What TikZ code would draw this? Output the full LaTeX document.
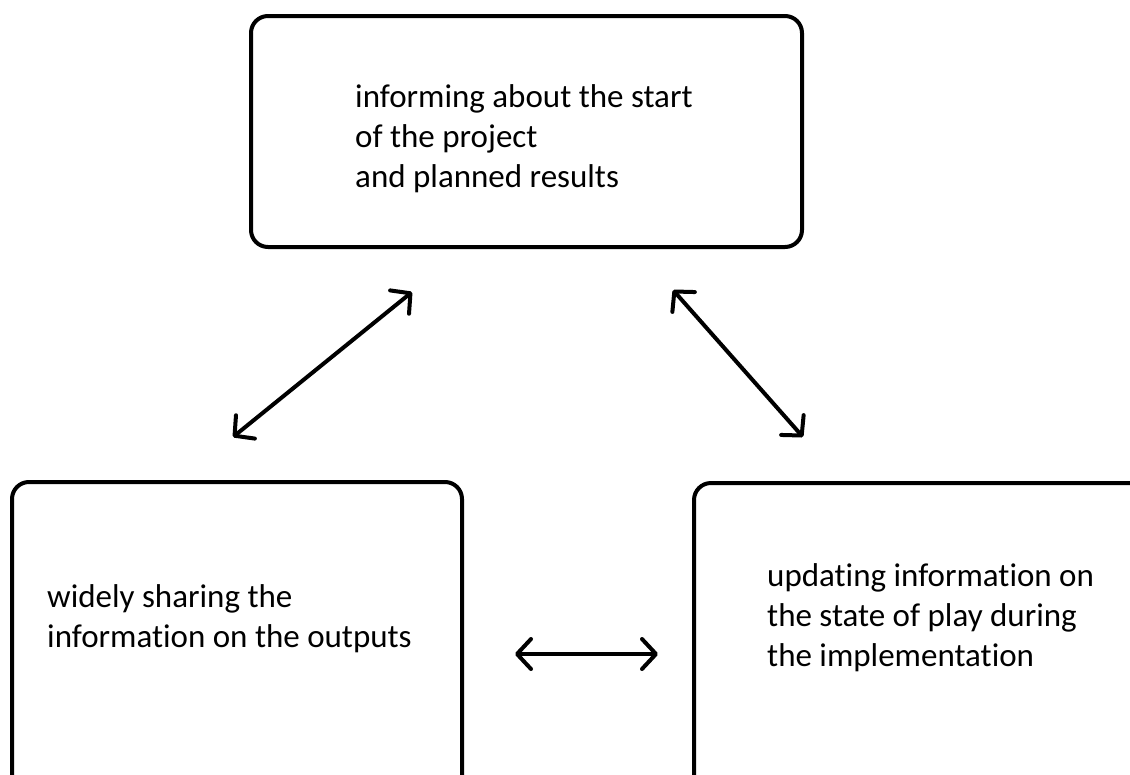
\documentclass[tikz,border=0pt]{standalone}
\usepackage{fontspec}
\setmainfont{Carlito}[Ligatures={NoCommon}]
\usetikzlibrary{arrows.meta}
\tikzset{
  box/.style={draw=black, line width=4pt, rounded corners=17pt, fill=white, inner sep=0pt},
  label/.style={anchor=base west, align=left, inner sep=0pt, font=\fontsize{33}{40}\selectfont},
  link/.style={line width=4pt, line cap=round, {Straight Barb[length=14pt,width=30pt,round]}-{Straight Barb[length=14pt,width=30pt,round]}}
}
\begin{document}
\begin{tikzpicture}[x=1pt,y=-1pt]
\useasboundingbox (0,0) rectangle (1130,774);
\fill[white] (0,0) rectangle (1130,774);
\clip (0,0) rectangle (1130,774);
% boxes
\draw[box] (251,16) rectangle (802,247);
\node[minimum width=551pt, minimum height=231pt, inner sep=0pt] (top) at (526.5,131.5) {};
\draw[box] (12,482) rectangle (462,830);
\node[minimum width=450pt, minimum height=348pt, inner sep=0pt] (left) at (237,656) {};
\draw[box] (694,483) rectangle (1190,830);
\node[minimum width=496pt, minimum height=347pt, inner sep=0pt] (right) at (942,656.5) {};
% texts (anchor = baseline of the last line)
\node[label] (toptext) at (355,187) {informing about the start\\of the project\\and planned results};
\node[label] (lefttext) at (47,647) {widely sharing the\\information on the outputs};
\node[label] (righttext) at (767,666) {updating information on\\the state of play during\\the implementation};
% connector ends
\coordinate (a1) at (233,437);
\coordinate (a2) at (412,292);
\coordinate (b1) at (673,290);
\coordinate (b2) at (803,437);
\coordinate (c1) at (515,654);
\coordinate (c2) at (658,654);
\draw[link] (a1) -- (a2);
\draw[link] (b1) -- (b2);
\draw[link] (c1) -- (c2);
\end{tikzpicture}
\end{document}
